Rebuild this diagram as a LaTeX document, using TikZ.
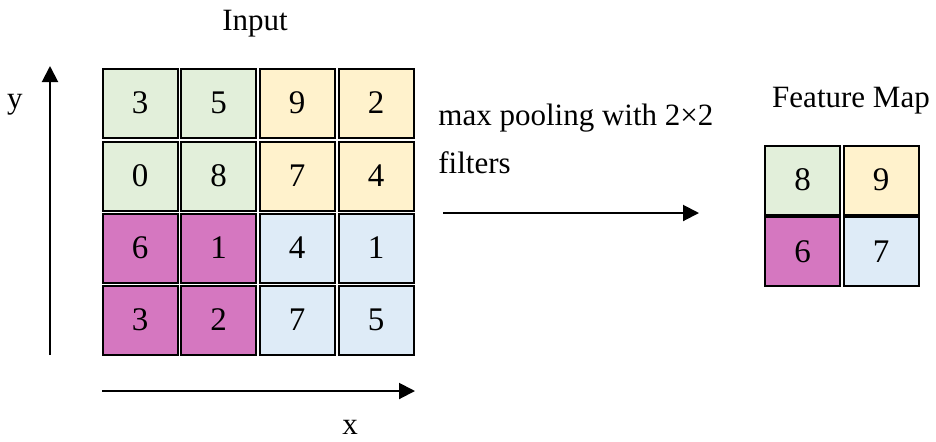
\documentclass[tikz,border=0pt]{standalone}
\usepackage{fontspec}
\setmainfont{Liberation Serif}
\usetikzlibrary{arrows.meta}
\definecolor{cgreen}{HTML}{E2EFDA}
\definecolor{cyellow}{HTML}{FFF2CC}
\definecolor{cmagenta}{HTML}{D577C0}
\definecolor{cblue}{HTML}{DEEBF7}
\tikzset{
  cell/.style={draw=black, line width=1pt, minimum width=37.5pt, minimum height=34.5pt,
    inner sep=0pt, font=\fontsize{16.5}{19}\selectfont},
  lbl/.style={font=\fontsize{15.5}{18}\selectfont, inner sep=0pt},
  axis/.style={line width=1pt, -{Triangle[length=8pt,width=8pt]}}
}
\begin{document}
\begin{tikzpicture}[x=0.5pt,y=-0.5pt]
\useasboundingbox (0,0) rectangle (936,441);
% input grid, 4x4
\node[cell, fill=cgreen]   (a11) at (140,103)   {3};
\node[cell, fill=cgreen]   (a12) at (218.5,103) {5};
\node[cell, fill=cyellow]  (a13) at (297,103)   {9};
\node[cell, fill=cyellow]  (a14) at (376,103)   {2};
\node[cell, fill=cgreen]   (a21) at (140,176)   {0};
\node[cell, fill=cgreen]   (a22) at (218.5,176) {8};
\node[cell, fill=cyellow]  (a23) at (297,176)   {7};
\node[cell, fill=cyellow]  (a24) at (376,176)   {4};
\node[cell, fill=cmagenta] (a31) at (140,248)   {6};
\node[cell, fill=cmagenta] (a32) at (218.5,248) {1};
\node[cell, fill=cblue]    (a33) at (297,248)   {4};
\node[cell, fill=cblue]    (a34) at (376,248)   {1};
\node[cell, fill=cmagenta] (a41) at (140,320)   {3};
\node[cell, fill=cmagenta] (a42) at (218.5,320) {2};
\node[cell, fill=cblue]    (a43) at (297,320)   {7};
\node[cell, fill=cblue]    (a44) at (376,320)   {5};
% pooled feature map, 2x2
\node[cell, fill=cgreen]   (b11) at (802.5,180) {8};
\node[cell, fill=cyellow]  (b12) at (881,180)   {9};
\node[cell, fill=cmagenta] (b21) at (802.5,251.5) {6};
\node[cell, fill=cblue]    (b22) at (881,251.5) {7};
% titles and labels
\node[lbl, anchor=base] (tin) at (255,30) {Input};
\node[lbl, anchor=base] (tfm) at (851,107) {Feature Map};
\node[lbl, anchor=base] (ly) at (15,108) {y};
\node[lbl, anchor=base] (lx) at (350,434) {x};
\node[lbl, anchor=base west] (op1) at (438,125) {max pooling with 2×2};
\node[lbl, anchor=base west] (op2) at (438,173) {filters};
% axes and pooling arrow
\coordinate (ys) at (50,355);
\coordinate (ye) at (50,66);
\coordinate (xs) at (102,391);
\coordinate (xe) at (415,391);
\coordinate (ps) at (443,213);
\coordinate (pe) at (699,213);
\draw[axis] (ys) -- (ye);
\draw[axis] (xs) -- (xe);
\draw[axis] (ps) -- (pe);
\end{tikzpicture}
\end{document}
